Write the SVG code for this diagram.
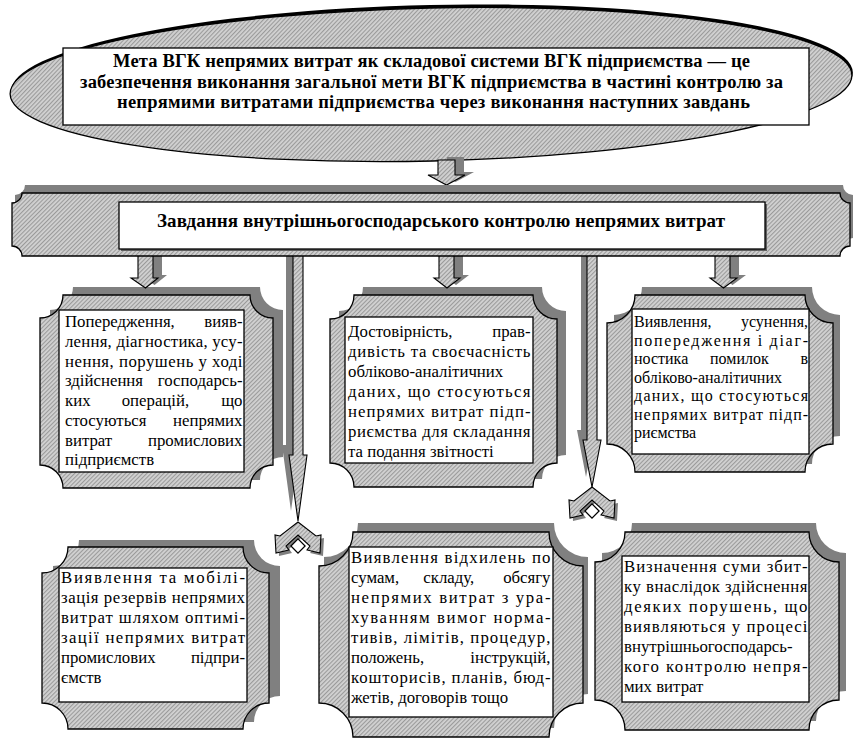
<svg xmlns="http://www.w3.org/2000/svg" width="853" height="738" viewBox="0 0 853 738">
<defs>
<pattern id="hatch" width="3" height="3" patternUnits="userSpaceOnUse" patternTransform="rotate(45)">
<rect width="3" height="3" fill="#d2d2d2"/>
<rect width="1.1" height="3" fill="#9a9a9a"/>
</pattern>
<polygon id="chev" points="0,0 18,14 23,13 22,31 9,28 12,24 0,13 -12,24 -9,28 -22,31 -23,13 -18,14"/>
</defs>
<style>
.pl{fill:url(#hatch);stroke:#000;stroke-width:1.3}
.sh{fill:#808080;stroke:none}
.in{fill:#fff;stroke:#000;stroke-width:1.3}
.ar{fill:url(#hatch);stroke:#000;stroke-width:1.1}
.t{font-family:"Liberation Serif","Times New Roman",serif;font-size:16.8px;fill:#000}
.s{font-size:16px}
.e{text-anchor:end}
.h{font-family:"Liberation Serif","Times New Roman",serif;font-size:18.5px;font-weight:bold;text-anchor:middle;fill:#000}
</style>
<rect width="853" height="738" fill="#fff"/>

<g id="goal">
<ellipse cx="432" cy="82" rx="421" ry="77" fill="#000" transform="rotate(-1.3 432 84)"/>
<ellipse cx="431" cy="84.5" rx="421" ry="76.5" class="pl" transform="rotate(-1.3 431 84)"/>
<rect x="63" y="48" width="746" height="77" class="in"/>
<text class="h" x="431.5" y="67" textLength="637" lengthAdjust="spacing">Мета ВГК непрямих витрат як складової системи ВГК підприємства — це</text>
<text class="h" x="431.5" y="87.5" textLength="703" lengthAdjust="spacing">забезпечення виконання загальної мети ВГК підприємства в частині контролю за</text>
<text class="h" x="433.5" y="108" textLength="633" lengthAdjust="spacing">непрямими витратами підприємства через виконання наступних завдань</text>
</g>

<g id="box1">
<path class="sh" transform="translate(10,-8)" d="M63,295 H250 A23,23 0 0 0 273,318 V465 A23,23 0 0 0 250,488 H63 A23,23 0 0 0 40,465 V318 A23,23 0 0 0 63,295 Z"/>
<path class="pl" d="M63,295 H250 A23,23 0 0 0 273,318 V465 A23,23 0 0 0 250,488 H63 A23,23 0 0 0 40,465 V318 A23,23 0 0 0 63,295 Z"/>
<rect x="59" y="310" width="185" height="162" class="in"/>
<text class="t" x="65" y="327">Попередження,</text><text class="t e" x="242.5" y="327">вияв-</text>
<text class="t" x="65" y="346.8" textLength="177.5" lengthAdjust="spacing">лення, діагностика, усу-</text>
<text class="t" x="65" y="366.5" textLength="177.5" lengthAdjust="spacing">нення, порушень у ході</text>
<text class="t" x="65" y="386.3">здійснення</text><text class="t e" x="242.5" y="386.3">господарсь-</text>
<text class="t" y="406"><tspan x="65">ких</tspan><tspan x="121.7">операцій,</tspan></text><text class="t e" x="242.5" y="406">що</text>
<text class="t" x="65" y="425.8">стосуються</text><text class="t e" x="242.5" y="425.8">непрямих</text>
<text class="t" x="65" y="445.5">витрат</text><text class="t e" x="242.5" y="445.5">промислових</text>
<text class="t" x="65" y="465.3">підприємств</text>
</g>

<g id="box2">
<path class="sh" transform="translate(9,-8)" d="M354,295 H533 A24,24 0 0 0 557,319 V463 A24,24 0 0 0 533,487 H354 A24,24 0 0 0 330,463 V319 A24,24 0 0 0 354,295 Z"/>
<path class="pl" d="M354,295 H533 A24,24 0 0 0 557,319 V463 A24,24 0 0 0 533,487 H354 A24,24 0 0 0 330,463 V319 A24,24 0 0 0 354,295 Z"/>
<rect x="345" y="317" width="188" height="146" class="in"/>
<text class="t" x="348" y="337">Достовірність,</text><text class="t e" x="530.5" y="337">прав-</text>
<text class="t" x="348" y="357" textLength="182.5" lengthAdjust="spacing">дивість та своєчасність</text>
<text class="t" x="348" y="377">обліково-аналітичних</text>
<text class="t" x="348" y="397" textLength="182.5" lengthAdjust="spacing">даних, що стосуються</text>
<text class="t" x="348" y="417" textLength="182.5" lengthAdjust="spacing">непрямих витрат підп-</text>
<text class="t" x="348" y="437" textLength="182.5" lengthAdjust="spacing">риємства для складання</text>
<text class="t" x="348" y="457">та подання звітності</text>
</g>

<g id="box3">
<path class="sh" transform="translate(7,-8)" d="M635,295 H805 A28,28 0 0 0 833,323 V444 A28,28 0 0 0 805,472 H635 A28,28 0 0 0 607,444 V323 A28,28 0 0 0 635,295 Z"/>
<path class="pl" d="M635,295 H805 A28,28 0 0 0 833,323 V444 A28,28 0 0 0 805,472 H635 A28,28 0 0 0 607,444 V323 A28,28 0 0 0 635,295 Z"/>
<rect x="632" y="309" width="177" height="145" class="in"/>
<text class="t s" x="634" y="327">Виявлення,</text><text class="t s e" x="808" y="327">усунення,</text>
<text class="t s" x="634" y="345.5" textLength="174" lengthAdjust="spacing">попередження і діаг-</text>
<text class="t s" y="364"><tspan x="634">ностика</tspan><tspan x="710">помилок</tspan></text><text class="t s e" x="808" y="364">в</text>
<text class="t s" x="634" y="382.5">обліково-аналітичних</text>
<text class="t s" x="634" y="401" textLength="174" lengthAdjust="spacing">даних, що стосуються</text>
<text class="t s" x="634" y="419.5" textLength="174" lengthAdjust="spacing">непрямих витрат підп-</text>
<text class="t s" x="634" y="438">риємства</text>
</g>

<g id="box4">
<path class="sh" transform="translate(11,-7)" d="M68,547 H243 A26,26 0 0 0 269,573 V703 A26,26 0 0 0 243,729 H68 A26,26 0 0 0 42,703 V573 A26,26 0 0 0 68,547 Z"/>
<path class="pl" d="M68,547 H243 A26,26 0 0 0 269,573 V703 A26,26 0 0 0 243,729 H68 A26,26 0 0 0 42,703 V573 A26,26 0 0 0 68,547 Z"/>
<rect x="59" y="568" width="188" height="134" class="in"/>
<text class="t" x="61" y="583.3" textLength="184" lengthAdjust="spacing">Виявлення та мобілі-</text>
<text class="t" x="61" y="603.3" textLength="184" lengthAdjust="spacing">зація резервів непрямих</text>
<text class="t" x="61" y="623.3" textLength="184" lengthAdjust="spacing">витрат шляхом оптимі-</text>
<text class="t" x="61" y="643.3" textLength="184" lengthAdjust="spacing">зації непрямих витрат</text>
<text class="t" x="61" y="663.3">промислових</text><text class="t e" x="245" y="663.3">підпри-</text>
<text class="t" x="61" y="683.3">ємств</text>
</g>

<g id="box5">
<path class="sh" transform="translate(5,-9)" d="M353,532 H549 A34,34 0 0 0 583,566 V703 A34,34 0 0 0 549,737 H353 A34,34 0 0 0 319,703 V566 A34,34 0 0 0 353,532 Z"/>
<path class="pl" d="M353,532 H549 A34,34 0 0 0 583,566 V703 A34,34 0 0 0 549,737 H353 A34,34 0 0 0 319,703 V566 A34,34 0 0 0 353,532 Z"/>
<rect x="349" y="547" width="204" height="170" class="in"/>
<text class="t" x="351" y="562.7" textLength="199.5" lengthAdjust="spacing">Виявлення відхилень по</text>
<text class="t" y="582.8"><tspan x="351">сумам,</tspan><tspan x="423.3">складу,</tspan></text><text class="t e" x="550.5" y="582.8">обсягу</text>
<text class="t" x="351" y="602.9" textLength="199.5" lengthAdjust="spacing">непрямих витрат з ура-</text>
<text class="t" x="351" y="623" textLength="199.5" lengthAdjust="spacing">хуванням вимог норма-</text>
<text class="t" x="351" y="643.1" textLength="199.5" lengthAdjust="spacing">тивів, лімітів, процедур,</text>
<text class="t" x="351" y="663.2">положень,</text><text class="t e" x="550.5" y="663.2">інструкцій,</text>
<text class="t" x="351" y="683.3" textLength="199.5" lengthAdjust="spacing">кошторисів, планів, бюд-</text>
<text class="t" x="351" y="703.4">жетів, договорів тощо</text>
</g>

<g id="box6">
<path class="sh" transform="translate(7,-9)" d="M625,532 H809 A30,30 0 0 0 839,562 V700 A30,30 0 0 0 809,730 H625 A30,30 0 0 0 595,700 V562 A30,30 0 0 0 625,532 Z"/>
<path class="pl" d="M625,532 H809 A30,30 0 0 0 839,562 V700 A30,30 0 0 0 809,730 H625 A30,30 0 0 0 595,700 V562 A30,30 0 0 0 625,532 Z"/>
<rect x="622" y="556" width="187" height="146" class="in"/>
<text class="t" x="624" y="571.7" textLength="183.5" lengthAdjust="spacing">Визначення суми збит-</text>
<text class="t" x="624" y="591.7" textLength="183.5" lengthAdjust="spacing">ку внаслідок здійснення</text>
<text class="t" x="624" y="611.7" textLength="183.5" lengthAdjust="spacing">деяких порушень, що</text>
<text class="t" x="624" y="631.7" textLength="183.5" lengthAdjust="spacing">виявляються у процесі</text>
<text class="t" x="624" y="651.7">внутрішньогосподарсь-</text>
<text class="t" x="624" y="671.7" textLength="183.5" lengthAdjust="spacing">кого контролю непря-</text>
<text class="t" x="624" y="691.7">мих витрат</text>
</g>

<g id="connectors">
<g transform="translate(9,-3)" class="sh">
<path d="M438,160 H455 V175 H465 L446.5,185 L428,175 H438 Z"/>
<path d="M138,250 H153 V278 H158 L145.5,288 L131,278 H138 Z"/>
<path d="M439,250 H454 V278 H460 L447,288 L434,278 H439 Z"/>
<path d="M715,250 H730 V278 H737 L723.5,288 L710,278 H715 Z"/>
</g>
<path class="ar" d="M438,160 H455 V175 H465 L446.5,185 L428,175 H438 Z"/>
<path class="ar" d="M138,250 H153 V278 H158 L145.5,288 L131,278 H138 Z"/>
<path class="ar" d="M439,250 H454 V278 H460 L447,288 L434,278 H439 Z"/>
<path class="ar" d="M715,250 H730 V278 H737 L723.5,288 L710,278 H715 Z"/>
<path class="sh" transform="translate(-7,-10)" d="M293,250 H303 V455 H307 L298,521 L289,455 H293 Z"/>
<path class="ar" d="M293,250 H303 V455 H307 L298,521 L289,455 H293 Z"/>
<path class="sh" transform="translate(-6,-10)" d="M587,250 H597 V440 H601 L592,487 L583,440 H587 Z"/>
<path class="ar" d="M587,250 H597 V440 H601 L592,487 L583,440 H587 Z"/>
<use href="#chev" class="sh" transform="translate(301,525)"/>
<use href="#chev" class="ar" transform="translate(298,522)"/>
<rect x="-5" y="-5" width="10" height="10" class="in" transform="translate(298,546) rotate(45)"/>
<use href="#chev" class="sh" transform="translate(595,490)"/>
<use href="#chev" class="ar" transform="translate(592,487)"/>
<rect x="-5" y="-5" width="10" height="10" class="in" transform="translate(592,511) rotate(45)"/>
</g>

<g id="tasks">
<path class="sh" transform="translate(3,-8)" d="M22,193 H840 A10,10 0 0 0 850,203 V246 A10,10 0 0 0 840,256 H22 A10,10 0 0 0 12,246 V203 A10,10 0 0 0 22,193 Z"/>
<path class="pl" d="M22,193 H840 A10,10 0 0 0 850,203 V246 A10,10 0 0 0 840,256 H22 A10,10 0 0 0 12,246 V203 A10,10 0 0 0 22,193 Z"/>
<rect x="121" y="204" width="646" height="47" fill="#606060"/>
<rect x="119" y="202" width="646" height="47" class="in"/>
<text class="h" x="441" y="226.5" style="font-size:19px" textLength="568" lengthAdjust="spacing">Завдання внутрішньогосподарського контролю непрямих витрат</text>
</g>
</svg>
